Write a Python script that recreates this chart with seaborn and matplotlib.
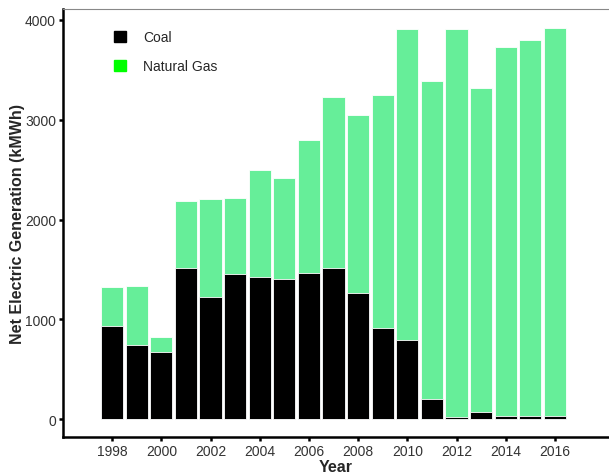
import matplotlib

matplotlib.use("Agg")
import matplotlib.pyplot as plt
import matplotlib.patches as mpatches
import pandas as pd
import seaborn as sns

years = list(range(1998, 2017))
coal = [935, 745, 675, 1510, 1220, 1450, 1420, 1400, 1460, 1517,
        1263, 912, 789, 200, 23, 67, 33, 30, 28]
total = [1320, 1330, 822, 2185, 2202, 2215, 2496, 2419, 2797, 3231,
         3051, 3251, 3906, 3385, 3906, 3315, 3729, 3802, 3920]
gas = [t - c for t, c in zip(total, coal)]
xticks = list(range(1998, 2017, 2))

GAS_BAR, GAS_KEY, COAL = "#66ee99", "#00ff00", "#000000"

sns.set_theme(style="white")
plt.rcParams["font.family"] = ["Liberation Sans", "DejaVu Sans"]

df = pd.DataFrame({"year": years, "coal": coal, "gas": gas})
df["total"] = df["coal"] + df["gas"]

fig = plt.figure(figsize=(6.09, 4.77), dpi=100)
ax = fig.add_axes([0.1034, 0.0818, 0.8966, 0.8972])

# stacked look: full total in gas colour, coal drawn over it from zero
sns.barplot(data=df, x="year", y="total", native_scale=True, color=GAS_BAR,
            saturation=1, width=0.9, edgecolor="white", linewidth=0.6, ax=ax)
sns.barplot(data=df, x="year", y="coal", native_scale=True, color=COAL,
            saturation=1, width=0.9, edgecolor="white", linewidth=0.6, ax=ax)

ax.set_xlim(1996.0, 2018.2)
ax.set_ylim(-180, 4110)
ax.set_xticks(xticks)
ax.set_xticklabels([str(y) for y in xticks])
ax.set_yticks([0, 1000, 2000, 3000, 4000])
ax.tick_params(axis="both", direction="out", length=3, width=1.8,
               color="black", labelsize=10, labelcolor="#333333", pad=2,
               bottom=True, left=True)

for s in ["left", "bottom"]:
    ax.spines[s].set_color("black")
    ax.spines[s].set_linewidth(1.8)
ax.spines["top"].set_color("#888888")
ax.spines["top"].set_linewidth(0.8)
ax.spines["right"].set_visible(False)

ax.set_xlabel("Year", fontsize=11.5, fontweight="bold", labelpad=1)
ax.set_ylabel("Net Electric Generation (kMWh)", fontsize=11.5,
              fontweight="bold", labelpad=0)

handles = [mpatches.Patch(color=COAL, label="Coal"),
           mpatches.Patch(color=GAS_KEY, label="Natural Gas")]
ax.legend(handles=handles, loc="upper left", bbox_to_anchor=(0.07, 0.98),
          frameon=False, fontsize=10, handlelength=0.9, handleheight=0.9,
          handletextpad=1.2, labelspacing=1.1)

fig.savefig("out.png", dpi=100)
